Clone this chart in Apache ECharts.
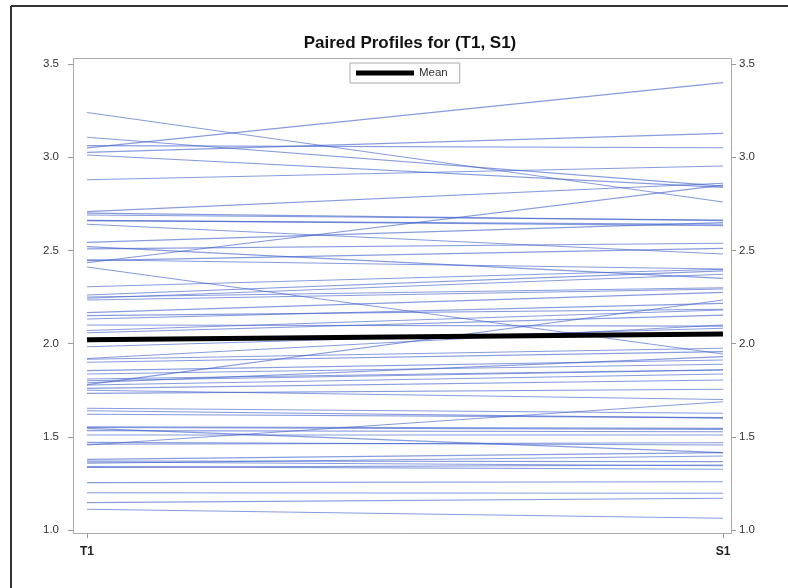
<!DOCTYPE html>
<html>
<head>
<meta charset="utf-8">
<script src="https://cdn.jsdelivr.net/npm/echarts@6/dist/echarts.min.js"></script>
<style>html,body{margin:0;padding:0;background:#fff}#c{width:788px;height:588px}</style>
</head>
<body>
<div id="c"></div>
<script>
var categories = ['T1', 'S1'];
var yTicks = [1.0, 1.5, 2.0, 2.5, 3.0, 3.5];
var t1Values = [3.24, 3.05, 3.107, 3.062, 3.026, 3.012, 2.879, 2.708, 2.69, 2.661, 2.64, 2.543, 2.508, 2.434, 2.445, 2.411,
  2.305, 2.261, 2.243, 2.234, 2.166, 2.132, 2.15, 2.058, 2.10, 1.983, 1.916, 1.900, 1.855, 1.837, 1.801, 1.778, 1.760,
  1.733, 1.653, 1.621, 1.554, 1.533, 1.510, 1.456, 1.379, 1.358, 1.37, 1.336, 1.34, 1.254, 1.200, 1.147, 1.111, 1.46,
  1.47, 2.52, 1.78, 1.545,
  1.79, 1.81, 1.55, 1.365, 2.45, 2.70, 2.66, 1.92, 2.07, 1.75, 2.25, 1.64];
var s1Values = [2.76, 3.40, 2.845, 3.051, 3.128, 2.838, 2.953, 2.86, 2.663, 2.633, 2.481, 2.649, 2.538, 2.85, 2.511, 1.944,
  2.399, 2.39, 2.372, 2.293, 2.275, 2.216, 2.184, 2.153, 2.094, 2.082, 1.975, 1.957, 1.912, 1.889, 1.858, 1.837, 1.805,
  1.755, 1.626, 1.603, 1.545, 1.527, 1.51, 1.688, 1.415, 1.397, 1.367, 1.349, 1.326, 1.259, 1.197, 1.17, 1.063, 1.468,
  1.456, 2.35, 2.234, 1.415,
  1.93, 1.86, 1.54, 1.345, 2.40, 2.66, 2.64, 2.10, 2.18, 1.70, 2.30, 1.60];
var meanValues = [2.02, 2.052];

var series = [];
for (var i = 0; i < t1Values.length; i++) {
  series.push({
    type: 'line', data: [t1Values[i], s1Values[i]], symbol: 'none', silent: true,
    lineStyle: { color: '#3d5ec9', width: 1.1, opacity: 0.62 }, itemStyle: { color: '#3d5ec9' }, z: 2
  });
}
series.push({
  name: 'Mean', type: 'line', data: meanValues, symbol: 'none', silent: true,
  lineStyle: { color: '#000', width: 5 }, itemStyle: { color: '#000' }, z: 5
});

var axisFont = 'Liberation Sans, Arial, sans-serif';
var yCommon = {
  type: 'value', min: 1, max: 3.5, interval: 0.5,
  splitLine: { show: false }, axisLine: { show: false },
  axisTick: { show: true, length: 5, lineStyle: { color: '#999' } },
  axisLabel: { color: '#333', fontSize: 11.5, fontFamily: axisFont, formatter: function (v) { return v.toFixed(1); } }
};

var chart = echarts.init(document.getElementById('c'), null, { renderer: 'canvas' });
chart.setOption({
  animation: false,
  backgroundColor: '#fff',
  title: {
    text: 'Paired Profiles for (T1, S1)', left: 405, top: 30, textAlign: 'center',
    textStyle: { fontSize: 17, fontWeight: 'bold', color: '#111', fontFamily: axisFont }
  },
  legend: {
    data: [{ name: 'Mean', icon: 'rect' }], left: 350, top: 63,
    itemWidth: 58, itemHeight: 5, itemGap: 4,
    borderColor: '#aaa', borderWidth: 1, padding: [4, 12, 4, 6],
    textStyle: { fontSize: 11.5, color: '#333', fontFamily: axisFont }
  },
  grid: { left: 87, right: 65, top: 64, bottom: 58 },
  xAxis: {
    type: 'category', data: categories, boundaryGap: false, offset: 3,
    axisLine: { show: false },
    axisTick: { show: true, length: 5, lineStyle: { color: '#999' } },
    axisLabel: { color: '#222', fontSize: 12, fontWeight: 'bold', fontFamily: axisFont, margin: 13 },
    splitLine: { show: false }
  },
  yAxis: [
    Object.assign({}, yCommon, { position: 'left', offset: 14, axisLabel: Object.assign({}, yCommon.axisLabel, { margin: 14 }) }),
    Object.assign({}, yCommon, { position: 'right', offset: 8 })
  ],
  graphic: [
    { type: 'rect', shape: { x: 73.5, y: 58.5, width: 658, height: 475 }, style: { fill: null, stroke: '#aaa', lineWidth: 1 }, z: 10, silent: true },
    { type: 'line', shape: { x1: 11, y1: 6, x2: 788, y2: 6 }, style: { stroke: '#333', lineWidth: 2 }, silent: true },
    { type: 'line', shape: { x1: 11, y1: 6, x2: 11, y2: 588 }, style: { stroke: '#333', lineWidth: 2 }, silent: true }
  ],
  series: series
});
</script>
</body>
</html>
